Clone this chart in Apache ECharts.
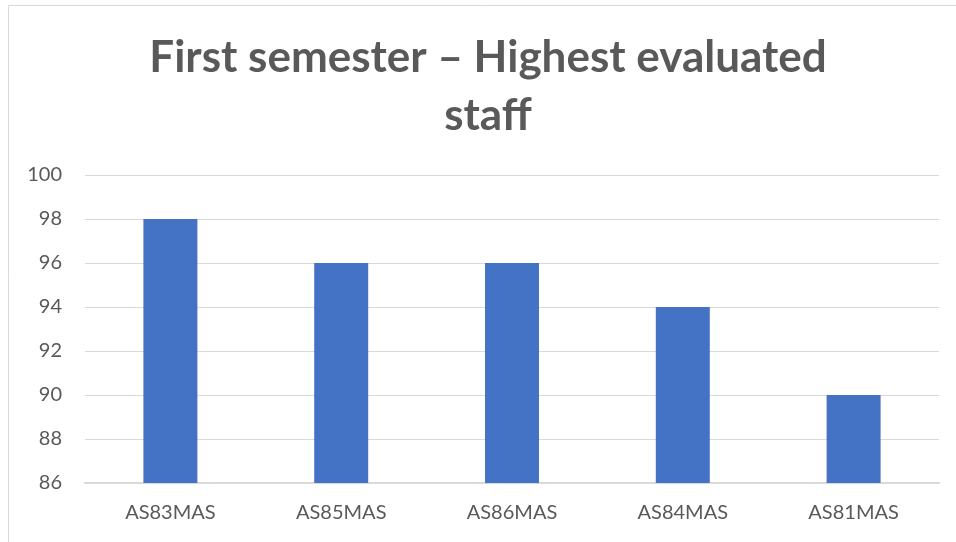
<!DOCTYPE html>
<html>
<head>
<meta charset="utf-8">
<script src="https://cdn.jsdelivr.net/npm/echarts@6/dist/echarts.min.js"></script>
<style>
html, body { margin: 0; padding: 0; background: #ffffff; }
#chart { width: 956px; height: 542px; }
</style>
</head>
<body>
<div id="chart"></div>
<script>
var categories = ['AS83MAS', 'AS85MAS', 'AS86MAS', 'AS84MAS', 'AS81MAS'];
var scores = [98, 96, 96, 94, 90];
var titleText = 'First semester \u2013 Highest evaluated\nstaff';

var myChart = echarts.init(document.getElementById('chart'));

var option = {
    animation: false,
    backgroundColor: '#ffffff',
    // outer chart frame (only left and top edges are visible in the picture)
    graphic: [{
        type: 'rect',
        shape: { x: 8.5, y: 5.5, width: 1000, height: 600 },
        style: { fill: 'none', stroke: '#d9d9d9', lineWidth: 1 },
        silent: true
    }],
    title: {
        text: titleText,
        left: 483,
        textAlign: 'center',
        top: 24,
        textStyle: {
            fontFamily: 'Lato',
            fontWeight: 'bold',
            fontSize: 44,
            lineHeight: 58,
            color: '#595959'
        }
    },
    grid: {
        left: 85,
        right: 17,
        top: 175,
        bottom: 59,
        containLabel: false
    },
    xAxis: {
        type: 'category',
        data: categories,
        axisLine: { show: true, lineStyle: { color: '#d9d9d9', width: 2 } },
        axisTick: { show: false },
        axisLabel: {
            color: '#595959',
            fontFamily: 'Lato',
            fontSize: 20,
            margin: 20
        }
    },
    yAxis: {
        type: 'value',
        min: 86,
        max: 100,
        interval: 2,
        axisLine: { show: false },
        axisTick: { show: false },
        axisLabel: {
            color: '#595959',
            fontFamily: 'Lato',
            fontSize: 20,
            margin: 23
        },
        splitLine: { lineStyle: { color: '#d9d9d9', width: 1 } }
    },
    series: [{
        type: 'bar',
        data: scores,
        barWidth: 54,
        itemStyle: { color: '#4472c4' }
    }]
};

myChart.setOption(option);
window.addEventListener('resize', function () { myChart.resize(); });
</script>
</body>
</html>
